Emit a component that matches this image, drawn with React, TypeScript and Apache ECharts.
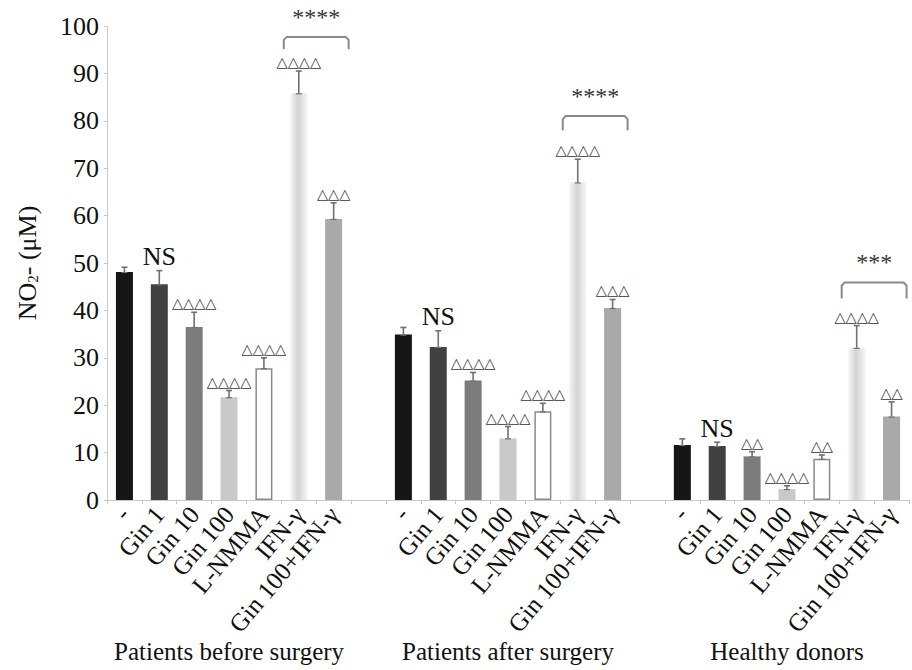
import React, { useEffect, useRef } from "react";
import * as echarts from "echarts";

const treatments = ["-", "Gin 1", "Gin 10", "Gin 100", "L-NMMA", "IFN-γ", "Gin 100+IFN-γ"];
const groups = ["Patients before surgery", "Patients after surgery", "Healthy donors"];

const beforeMeans = [48.1, 45.5, 36.5, 21.7, 27.8, 85.8, 59.3];
const beforeErr = [1.0, 2.9, 3.1, 1.4, 2.2, 4.7, 3.4];
const afterMeans = [34.9, 32.3, 25.2, 13.0, 18.7, 67.0, 40.5];
const afterErr = [1.5, 3.4, 1.7, 2.5, 1.7, 4.9, 1.8];
const healthyMeans = [11.6, 11.4, 9.2, 2.3, 8.7, 32.1, 17.6];
const healthyErr = [1.3, 0.8, 1.0, 0.7, 0.8, 4.7, 3.1];

const beforeMarks = ["", "NS", "△△△△", "△△△△", "△△△△", "△△△△", "△△△"];
const afterMarks = ["", "NS", "△△△△", "△△△△", "△△△△", "△△△△", "△△△"];
const healthyMarks = ["", "NS", "△△", "△△△△", "△△", "△△△△", "△△"];

const bracketStars = ["****", "****", "***"];
const bracketTop = [97.7, 81.0, 45.9];
const bracketLeg = [95.1, 78.0, 42.5];

const yTicks = { min: 0, max: 100, interval: 10 };

const SERIF = "'Liberation Serif', 'Times New Roman', serif";

export default function App() {
  const ref = useRef<HTMLDivElement>(null);

  useEffect(() => {
    if (!ref.current) return;
    const chart = echarts.init(ref.current, undefined, { renderer: "svg" });

    const slot = treatments.length + 1;
    const nSlots = groups.length * slot - 1;
    const categories: string[] = [];
    const groupCats: string[] = [];
    for (let i = 0; i < nSlots; i++) {
      const g = Math.floor(i / slot);
      const t = i % slot;
      categories.push(t < treatments.length ? treatments[t] : "");
      groupCats.push(t === 3 ? groups[g] : "");
    }

    const means = [beforeMeans, afterMeans, healthyMeans];
    const errs = [beforeErr, afterErr, healthyErr];
    const marks = [beforeMarks, afterMarks, healthyMarks];

    const ifnGrad = new echarts.graphic.LinearGradient(0, 0, 1, 0, [
      { offset: 0, color: "#f5f5f5" },
      { offset: 0.45, color: "#d3d3d3" },
      { offset: 1, color: "#f5f5f5" },
    ]);
    const barStyles: any[] = [
      { color: "#161616" },
      { color: "#414141" },
      { color: "#7c7c7c" },
      { color: "#c9c9c9" },
      { color: "#ffffff", borderColor: "#8a8a8a", borderWidth: 1.5 },
      { color: ifnGrad },
      { color: "#a9a9a9" },
    ];

    const barData: any[] = [];
    const errData: number[][] = [];
    const markFlat: string[] = [];
    for (let i = 0; i < nSlots; i++) {
      const g = Math.floor(i / slot);
      const t = i % slot;
      if (t < treatments.length) {
        barData.push({ value: means[g][t], itemStyle: barStyles[t] });
        errData.push([i, means[g][t], errs[g][t]]);
        markFlat.push(marks[g][t]);
      } else {
        barData.push("-");
      }
    }

    const bracketData = groups.map((_, g) => [
      g * slot + 5,
      g * slot + 6,
      bracketTop[g],
      bracketLeg[g],
    ]);

    chart.setOption({
      animation: false,
      textStyle: { fontFamily: SERIF },
      grid: { left: 107, top: 26, width: 802, height: 474 },
      xAxis: [
        {
          type: "category",
          data: categories,
          boundaryGap: true,
          axisLine: { lineStyle: { color: "#c8c8c8", width: 1 } },
          axisTick: { show: true, interval: 0, length: 4, lineStyle: { color: "#c8c8c8" } },
          axisLabel: {
            interval: 0,
            rotate: 50,
            fontSize: 25,
            fontFamily: SERIF,
            color: "#111",
            margin: 10,
          },
        },
        {
          type: "category",
          data: groupCats,
          position: "bottom",
          offset: 131,
          axisLine: { show: false },
          axisTick: { show: false },
          axisLabel: { interval: 0, fontSize: 25, fontFamily: SERIF, color: "#111", margin: 8 },
        },
      ],
      yAxis: {
        type: "value",
        min: yTicks.min,
        max: yTicks.max,
        interval: yTicks.interval,
        splitLine: { show: false },
        axisLine: { show: true, lineStyle: { color: "#c8c8c8" } },
        axisTick: { show: true, length: 3, lineStyle: { color: "#c8c8c8" } },
        axisLabel: { fontSize: 26, fontFamily: SERIF, color: "#111", margin: 8 },
        name: "NO{s|2}- (μM)",
        nameLocation: "middle",
        nameGap: 67,
        nameTextStyle: {
          fontSize: 26,
          fontFamily: SERIF,
          color: "#111",
          rich: { s: { fontSize: 15, fontFamily: SERIF, color: "#111", padding: [11, 0, 0, 0] } },
        },
      },
      series: [
        {
          type: "bar",
          xAxisIndex: 0,
          data: barData,
          barWidth: 17,
        },
        {
          type: "custom",
          xAxisIndex: 0,
          data: errData,
          z: 5,
          renderItem: (params: any, api: any) => {
            const x = api.value(0);
            const m = api.value(1);
            const e = api.value(2);
            const base = api.coord([x, m]);
            const top = api.coord([x, m + e]);
            const mark = markFlat[params.dataIndex];
            const children: any[] = [
              { type: "line", shape: { x1: base[0], y1: base[1], x2: top[0], y2: top[1] }, style: { stroke: "#707070", lineWidth: 1.6 } },
              { type: "line", shape: { x1: top[0] - 3, y1: top[1], x2: top[0] + 3, y2: top[1] }, style: { stroke: "#707070", lineWidth: 1.6 } },
              { type: "line", shape: { x1: base[0] - 3, y1: base[1] + 0.5, x2: base[0] + 3, y2: base[1] + 0.5 }, style: { stroke: "#707070", lineWidth: 1.2 } },
            ];
            if (mark === "NS") {
              children.push({
                type: "text",
                x: top[0],
                y: top[1] - 14,
                style: { text: mark, fontSize: 26, fontFamily: SERIF, fill: "#111", align: "center", verticalAlign: "middle" },
              });
            } else if (mark) {
              children.push({
                type: "text",
                x: top[0],
                y: top[1] - 9,
                style: { text: mark, fontSize: 14.5, fontFamily: "'DejaVu Sans', sans-serif", fill: "#333", align: "center", verticalAlign: "middle" },
              });
            }
            return { type: "group", children };
          },
        },
        {
          type: "custom",
          xAxisIndex: 0,
          data: bracketData,
          z: 5,
          renderItem: (params: any, api: any) => {
            const a = api.coord([api.value(0), api.value(2)]);
            const b = api.coord([api.value(1), api.value(2)]);
            const leg = api.coord([api.value(0), api.value(3)]);
            const x1 = a[0] - 15;
            const x2 = b[0] + 15;
            return {
              type: "group",
              children: [
                {
                  type: "polyline",
                  shape: { points: [[x1, leg[1]], [x1, a[1] + 3], [x1 + 3, a[1]], [x2 - 3, a[1]], [x2, a[1] + 3], [x2, leg[1]]] },
                  style: { stroke: "#8a8a8a", lineWidth: 2, fill: "none" },
                },
                {
                  type: "text",
                  x: (x1 + x2) / 2,
                  y: a[1] - 20,
                  style: { text: bracketStars[params.dataIndex], fontSize: 24, fontFamily: SERIF, fill: "#333", align: "center", verticalAlign: "middle" },
                },
              ],
            };
          },
        },
      ],
    });

    return () => chart.dispose();
  }, []);

  return <div ref={ref} style={{ position: "absolute", left: 0, top: 0, width: 912, height: 670, background: "#fff" }} />;
}
